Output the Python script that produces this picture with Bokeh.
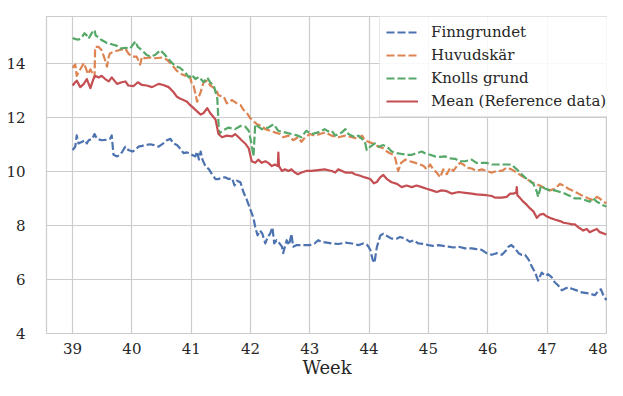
from bokeh.plotting import figure
from bokeh.models import FixedTicker, Range1d
from bokeh.embed import file_html
from bokeh.resources import INLINE

# ---- data (week, water temperature) ----
fin_week = [39.00, 39.045, 39.07, 39.10, 39.16, 39.21, 39.24, 39.27, 39.33, 39.37, 39.41, 39.49, 39.58, 39.63, 39.66, 39.69,
            39.75, 39.80, 39.84, 39.89, 39.94, 40.01, 40.06, 40.11, 40.17, 40.22, 40.31, 40.37, 40.45, 40.53, 40.59, 40.65,
            40.70, 40.76, 40.81, 40.87, 40.93, 41.01, 41.07, 41.10, 41.13, 41.16, 41.19, 41.24, 41.30, 41.35, 41.41, 41.46,
            41.52, 41.58, 41.63, 41.69, 41.73, 41.77, 41.83, 41.88, 41.94, 41.99, 42.05, 42.08, 42.12, 42.16, 42.20, 42.25,
            42.29, 42.33, 42.37, 42.40, 42.44, 42.47, 42.53, 42.55, 42.61, 42.65, 42.69, 42.72, 42.78, 42.83, 42.92, 43.00,
            43.08, 43.14, 43.20, 43.26, 43.37, 43.48, 43.60, 43.71, 43.82, 43.90, 43.96, 43.99, 44.02, 44.06, 44.09, 44.13,
            44.19, 44.24, 44.33, 44.38, 44.47, 44.52, 44.61, 44.69, 44.75, 44.83, 44.92, 45.00, 45.08, 45.17, 45.25, 45.34,
            45.42, 45.51, 45.62, 45.73, 45.81, 45.90, 45.98, 46.07, 46.15, 46.24, 46.32, 46.35, 46.40, 46.46, 46.52, 46.57,
            46.63, 46.69, 46.74, 46.80, 46.85, 46.91, 46.97, 47.02, 47.08, 47.13, 47.19, 47.25, 47.30, 47.36, 47.42, 47.50,
            47.56, 47.64, 47.72, 47.81, 47.87, 47.91, 47.95, 48.00]
fin_temp = [10.81, 10.93, 11.35, 11.05, 11.11, 11.17, 11.05, 11.17, 11.22, 11.40, 11.22, 11.17, 11.19, 11.22, 11.35, 10.63,
            10.57, 10.63, 10.75, 10.93, 10.81, 10.75, 10.81, 10.93, 10.96, 10.99, 11.02, 10.99, 10.93, 11.05, 11.17, 11.22,
            11.05, 10.99, 10.87, 10.69, 10.72, 10.63, 10.57, 10.75, 10.45, 10.75, 10.45, 10.21, 10.09, 9.91, 9.73, 9.73,
            9.79, 9.79, 9.73, 9.76, 9.49, 9.67, 9.61, 9.25, 8.95, 8.65, 8.29, 7.94, 7.64, 7.82, 7.70, 7.34,
            7.58, 7.70, 7.94, 7.34, 7.46, 7.40, 7.22, 6.98, 7.46, 7.28, 7.70, 7.22, 7.28, 7.28, 7.28, 7.28,
            7.34, 7.46, 7.40, 7.38, 7.34, 7.32, 7.37, 7.34, 7.28, 7.34, 7.30, 7.22, 7.10, 6.74, 6.62, 7.20,
            7.64, 7.70, 7.58, 7.52, 7.52, 7.58, 7.52, 7.40, 7.46, 7.34, 7.32, 7.28, 7.25, 7.28, 7.25, 7.22,
            7.19, 7.22, 7.16, 7.16, 7.13, 7.10, 6.98, 6.92, 6.98, 6.92, 7.10, 7.22, 7.28, 7.16, 6.98, 6.92,
            6.92, 6.74, 6.50, 6.26, 5.96, 6.26, 6.14, 6.20, 6.08, 5.90, 5.78, 5.60, 5.66, 5.72, 5.66, 5.60,
            5.54, 5.51, 5.48, 5.42, 5.60, 5.64, 5.42, 5.24]

huv_week = [39.00, 39.045, 39.07, 39.13, 39.19, 39.21, 39.26, 39.30, 39.34, 39.37, 39.38, 39.44, 39.49, 39.54, 39.58, 39.61,
            39.63, 39.69, 39.78, 39.89, 39.94, 40.00, 40.08, 40.14, 40.17, 40.22, 40.31, 40.39, 40.51, 40.59, 40.67, 40.76,
            40.84, 40.90, 40.97, 41.01, 41.04, 41.10, 41.16, 41.21, 41.27, 41.32, 41.41, 41.46, 41.55, 41.60, 41.69, 41.77,
            41.83, 41.88, 41.94, 41.99, 42.05, 42.11, 42.19, 42.25, 42.33, 42.41, 42.50, 42.55, 42.64, 42.72, 42.80, 42.86,
            42.92, 43.00, 43.08, 43.17, 43.26, 43.37, 43.48, 43.60, 43.71, 43.82, 43.88, 43.93, 43.99, 44.07, 44.16, 44.24,
            44.30, 44.35, 44.41, 44.44, 44.49, 44.54, 44.61, 44.69, 44.78, 44.86, 44.92, 44.97, 45.03, 45.08, 45.14, 45.20,
            45.25, 45.31, 45.37, 45.42, 45.48, 45.53, 45.59, 45.65, 45.73, 45.81, 45.90, 45.98, 46.07, 46.15, 46.24, 46.32,
            46.40, 46.49, 46.57, 46.66, 46.74, 46.80, 46.88, 46.97, 47.05, 47.13, 47.22, 47.28, 47.36, 47.42, 47.47, 47.53,
            47.58, 47.64, 47.70, 47.78, 47.84, 47.89, 47.95, 48.00]
huv_temp = [13.86, 13.98, 13.56, 13.80, 14.04, 13.92, 13.62, 13.80, 13.62, 13.50, 14.63, 14.63, 14.51, 14.20, 13.90, 14.27,
            14.39, 14.45, 14.51, 14.57, 14.39, 14.27, 14.27, 13.98, 14.27, 14.21, 14.24, 14.21, 14.24, 14.16, 13.98, 13.74,
            13.62, 13.56, 13.62, 13.26, 13.20, 12.60, 12.96, 13.32, 13.38, 13.20, 13.08, 12.84, 12.78, 12.54, 12.66, 12.54,
            12.48, 12.30, 12.18, 12.00, 11.88, 11.76, 11.70, 11.58, 11.52, 11.46, 11.40, 11.28, 11.34, 11.17, 11.28, 11.11,
            11.28, 11.40, 11.34, 11.40, 11.46, 11.34, 11.28, 11.34, 11.28, 11.22, 11.34, 11.17, 11.11, 11.05, 10.93, 10.87,
            10.75, 10.69, 10.63, 10.51, 10.03, 10.33, 10.45, 10.39, 10.33, 10.27, 10.21, 10.09, 10.27, 10.09, 9.97, 9.79,
            10.09, 9.91, 10.15, 10.03, 10.21, 10.33, 10.27, 10.15, 10.12, 10.03, 10.09, 10.03, 9.97, 10.03, 10.03, 10.15,
            10.09, 9.97, 9.85, 9.73, 9.61, 9.55, 9.49, 9.37, 9.31, 9.37, 9.55, 9.49, 9.37, 9.31, 9.25, 9.19,
            9.13, 9.07, 9.01, 8.95, 9.07, 9.01, 8.89, 8.83]

kno_week = [39.00, 39.05, 39.10, 39.16, 39.20, 39.24, 39.27, 39.33, 39.37, 39.39, 39.44, 39.48, 39.52, 39.58, 39.66, 39.75,
            39.80, 39.89, 39.97, 40.06, 40.10, 40.17, 40.25, 40.31, 40.39, 40.48, 40.56, 40.65, 40.73, 40.81, 40.90, 40.96,
            41.01, 41.07, 41.13, 41.21, 41.27, 41.32, 41.38, 41.44, 41.47, 41.52, 41.63, 41.74, 41.83, 41.91, 41.97, 42.02,
            42.05, 42.08, 42.19, 42.30, 42.39, 42.47, 42.58, 42.69, 42.80, 42.86, 42.94, 43.03, 43.14, 43.25, 43.31, 43.37,
            43.43, 43.48, 43.54, 43.60, 43.65, 43.71, 43.76, 43.82, 43.88, 43.93, 43.96, 44.02, 44.10, 44.16, 44.24, 44.33,
            44.38, 44.47, 44.55, 44.63, 44.72, 44.80, 44.89, 44.94, 45.03, 45.11, 45.20, 45.28, 45.37, 45.45, 45.53, 45.62,
            45.73, 45.81, 45.90, 45.98, 46.07, 46.15, 46.24, 46.32, 46.40, 46.49, 46.54, 46.60, 46.66, 46.71, 46.77, 46.83,
            46.85, 46.90, 46.97, 47.05, 47.13, 47.22, 47.30, 47.36, 47.42, 47.47, 47.56, 47.64, 47.72, 47.78, 47.84, 47.89,
            47.93, 48.00]
kno_temp = [14.96, 14.92, 14.90, 15.00, 15.14, 15.05, 14.94, 15.17, 15.26, 15.05, 14.99, 14.90, 14.85, 14.78, 14.73, 14.67,
            14.57, 14.60, 14.57, 14.84, 14.63, 14.51, 14.33, 14.28, 14.33, 14.51, 14.33, 14.10, 13.92, 13.86, 13.68, 13.50,
            13.60, 13.44, 13.52, 13.32, 13.50, 13.32, 13.20, 12.72, 11.40, 11.52, 11.64, 11.58, 11.70, 11.68, 11.52, 11.00,
            10.57, 11.76, 11.58, 11.64, 11.76, 11.52, 11.46, 11.40, 11.34, 11.28, 11.52, 11.40, 11.46, 11.58, 11.50, 11.52,
            11.34, 11.40, 11.46, 11.58, 11.40, 11.34, 11.28, 11.34, 11.22, 11.10, 10.81, 10.93, 11.05, 10.93, 10.99, 10.87,
            10.75, 10.69, 10.66, 10.63, 10.63, 10.69, 10.75, 10.69, 10.63, 10.57, 10.55, 10.57, 10.50, 10.48, 10.39, 10.39,
            10.45, 10.33, 10.33, 10.33, 10.27, 10.27, 10.27, 10.27, 10.27, 10.09, 9.97, 9.85, 9.73, 9.67, 9.55, 9.25,
            9.07, 9.49, 9.37, 9.31, 9.31, 9.25, 9.19, 9.13, 9.07, 9.01, 9.01, 8.95, 8.89, 9.01, 8.89, 8.83,
            8.77, 8.71]

mean_week = [39.00, 39.045, 39.07, 39.13, 39.19, 39.24, 39.30, 39.35, 39.38, 39.44, 39.49, 39.55, 39.61, 39.66, 39.75, 39.83,
             39.89, 39.94, 40.03, 40.10, 40.17, 40.25, 40.34, 40.45, 40.53, 40.62, 40.70, 40.76, 40.81, 40.87, 40.93, 40.98,
             41.04, 41.10, 41.16, 41.21, 41.27, 41.32, 41.41, 41.46, 41.52, 41.60, 41.69, 41.74, 41.80, 41.85, 41.91, 41.97,
             42.02, 42.08, 42.13, 42.19, 42.25, 42.30, 42.36, 42.41, 42.46, 42.47, 42.48, 42.53, 42.58, 42.64, 42.69, 42.75,
             42.80, 42.86, 42.94, 43.03, 43.14, 43.25, 43.37, 43.43, 43.48, 43.60, 43.71, 43.76, 43.85, 43.93, 44.02, 44.08,
             44.13, 44.19, 44.24, 44.30, 44.38, 44.47, 44.55, 44.63, 44.72, 44.80, 44.89, 44.97, 45.06, 45.14, 45.22, 45.31,
             45.39, 45.51, 45.62, 45.73, 45.81, 45.98, 46.07, 46.12, 46.24, 46.32, 46.38, 46.43, 46.48, 46.49, 46.50, 46.54,
             46.60, 46.66, 46.71, 46.77, 46.83, 46.88, 46.94, 46.99, 47.05, 47.13, 47.22, 47.28, 47.36, 47.42, 47.47, 47.53,
             47.61, 47.67, 47.72, 47.78, 47.84, 47.89, 48.00]
mean_temp = [13.20, 13.32, 13.38, 13.14, 13.26, 13.44, 13.10, 13.44, 13.56, 13.50, 13.56, 13.44, 13.35, 13.50, 13.26, 13.32,
             13.35, 13.20, 13.18, 13.32, 13.22, 13.20, 13.14, 13.26, 13.22, 13.14, 12.96, 12.78, 12.72, 12.66, 12.60, 12.48,
             12.36, 12.24, 12.12, 12.18, 12.36, 12.18, 11.94, 11.40, 11.28, 11.34, 11.31, 11.40, 11.28, 11.17, 11.05, 10.87,
             10.39, 10.33, 10.45, 10.33, 10.39, 10.33, 10.21, 10.27, 10.21, 10.71, 10.21, 10.03, 10.09, 10.03, 10.09, 9.97,
             9.91, 9.97, 10.03, 10.03, 10.06, 10.09, 10.03, 9.97, 10.09, 9.97, 9.97, 9.91, 9.85, 9.79, 9.73, 9.57,
             9.62, 9.80, 9.88, 9.73, 9.61, 9.55, 9.43, 9.49, 9.43, 9.49, 9.43, 9.37, 9.31, 9.25, 9.31, 9.28,
             9.19, 9.25, 9.22, 9.19, 9.16, 9.13, 9.10, 9.04, 9.04, 9.07, 9.19, 9.19, 9.22, 9.43, 9.13, 9.04,
             8.89, 8.77, 8.65, 8.53, 8.29, 8.41, 8.44, 8.35, 8.29, 8.23, 8.17, 8.11, 8.08, 8.05, 8.05, 7.94,
             7.82, 7.88, 7.76, 7.82, 7.88, 7.76, 7.67]

x_ticks = [39, 40, 41, 42, 43, 44, 45, 46, 47, 48]
y_ticks = [4, 6, 8, 10, 12, 14]

series = [
    ("Finngrundet", fin_week, fin_temp, "#4C72B0", "8 3"),
    ("Huvudskär", huv_week, huv_temp, "#DD8452", "8 3"),
    ("Knolls grund", kno_week, kno_temp, "#55A868", "8 3"),
    ("Mean (Reference data)", mean_week, mean_temp, "#C44E52", "solid"),
]

FONT = "DejaVu Serif"
TXT = "#262626"
GRID = "#cccccc"

p = figure(width=607, height=380, output_backend="svg", toolbar_location=None,
           x_range=Range1d(38.56, 48.02), y_range=Range1d(4, 15.76),
           min_border_left=46, min_border_right=0, min_border_top=16, min_border_bottom=45)

p.background_fill_color = "white"
p.border_fill_color = "white"
p.outline_line_color = GRID
p.outline_line_width = 1.2

for label, xs, ys, color, dash in series:
    p.line(xs, ys, line_color=color, line_width=2.2, line_dash=dash, line_join="round",
           legend_label=label)

for ax in (p.xaxis[0], p.yaxis[0]):
    ax.axis_line_color = None
    ax.major_tick_line_color = None
    ax.minor_tick_line_color = None
    ax.major_label_text_font = FONT
    ax.major_label_text_font_size = "15px"
    ax.major_label_text_color = TXT

p.xaxis[0].ticker = FixedTicker(ticks=x_ticks)
p.yaxis[0].ticker = FixedTicker(ticks=y_ticks)
p.xaxis[0].major_label_standoff = 3
p.yaxis[0].major_label_standoff = 15
p.xaxis[0].axis_label = "Week"
p.xaxis[0].axis_label_text_font = FONT
p.xaxis[0].axis_label_text_font_size = "18px"
p.xaxis[0].axis_label_text_font_style = "normal"
p.xaxis[0].axis_label_text_color = TXT
p.xaxis[0].axis_label_standoff = 0

p.xgrid.ticker = FixedTicker(ticks=x_ticks)
p.ygrid.ticker = FixedTicker(ticks=y_ticks)
p.grid.grid_line_color = GRID
p.grid.grid_line_width = 1.2

lg = p.legend[0]
lg.location = (333, 216)
lg.label_text_font = FONT
lg.label_text_font_size = "15px"
lg.label_text_color = TXT
lg.glyph_width = 32
lg.glyph_height = 18
lg.label_height = 18
lg.spacing = 5
lg.padding = 6
lg.margin = 0
lg.label_standoff = 13
lg.border_line_color = GRID
lg.border_line_width = 1
lg.background_fill_color = "white"
lg.background_fill_alpha = 0.85

open("out.html", "w").write(file_html(p, INLINE))
